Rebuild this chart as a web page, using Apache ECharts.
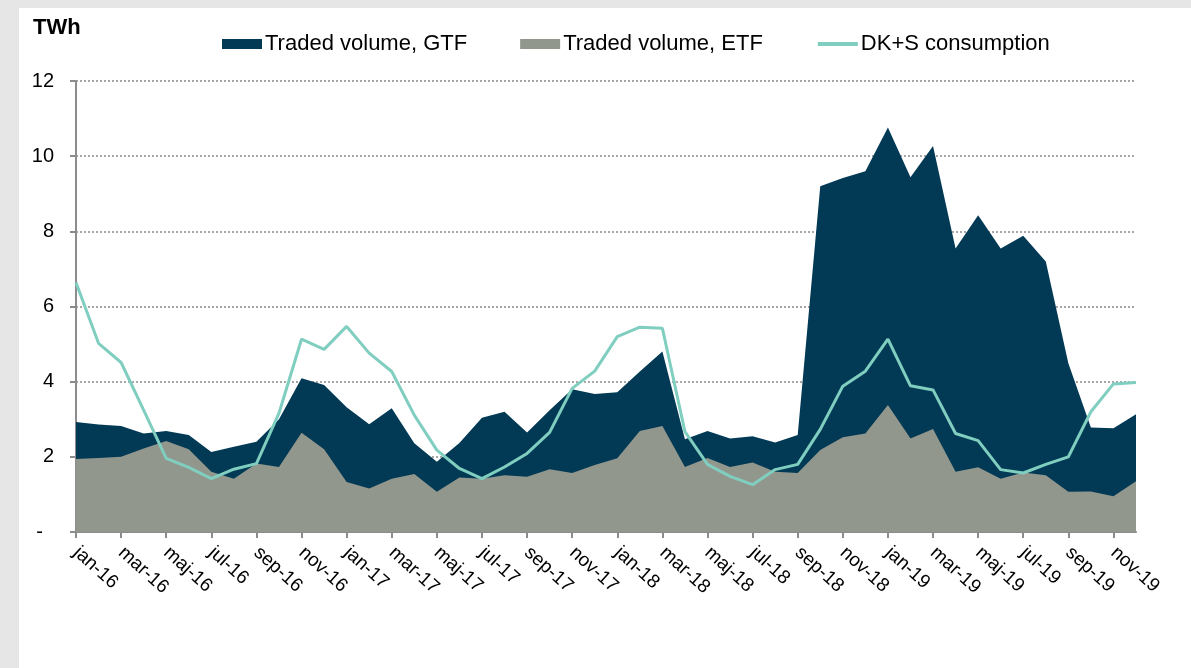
<!DOCTYPE html>
<html>
<head>
<meta charset="utf-8">
<script src="https://cdn.jsdelivr.net/npm/echarts@6/dist/echarts.min.js"></script>
<style>
  html, body { margin: 0; padding: 0; width: 1191px; height: 668px; background: #e6e6e6; overflow: hidden; }
  #chart { position: absolute; left: 19px; top: 8px; width: 1172px; height: 660px; background: #fff; }
</style>
</head>
<body>
<div id="chart"></div>
<script>
var months = ['jan', 'feb', 'mar', 'apr', 'maj', 'jun', 'jul', 'aug', 'sep', 'okt', 'nov', 'dec'];
var years = ['16', '17', '18', '19'];

var categories = [];
years.forEach(function (y) {
    months.forEach(function (m) { categories.push(m + '-' + y); });
});

// TWh per month
var gtfVolume = [
    2.93, 2.86, 2.82, 2.62, 2.69, 2.58, 2.13, 2.27, 2.40, 3.00, 4.09, 3.91,
    3.32, 2.87, 3.29, 2.36, 1.87, 2.37, 3.04, 3.20, 2.65, 3.24, 3.80, 3.67,
    3.72, 4.27, 4.80, 2.47, 2.69, 2.49, 2.55, 2.38, 2.58, 9.20, 9.42, 9.60,
    10.76, 9.44, 10.27, 7.54, 8.43, 7.54, 7.88, 7.20, 4.49, 2.78, 2.76, 3.13
];
var etfVolume = [
    1.94, 1.97, 2.00, 2.22, 2.42, 2.20, 1.60, 1.42, 1.82, 1.73, 2.64, 2.20,
    1.33, 1.16, 1.42, 1.54, 1.07, 1.45, 1.42, 1.51, 1.47, 1.67, 1.57, 1.78,
    1.96, 2.69, 2.82, 1.73, 1.97, 1.73, 1.85, 1.60, 1.57, 2.18, 2.52, 2.62,
    3.38, 2.49, 2.74, 1.60, 1.72, 1.42, 1.58, 1.51, 1.07, 1.08, 0.95, 1.35
];
var consumption = [
    6.64, 5.02, 4.51, 3.24, 1.96, 1.72, 1.42, 1.67, 1.82, 3.16, 5.13, 4.86,
    5.47, 4.76, 4.27, 3.11, 2.18, 1.69, 1.42, 1.73, 2.09, 2.65, 3.82, 4.28,
    5.20, 5.45, 5.42, 2.67, 1.80, 1.48, 1.26, 1.66, 1.80, 2.73, 3.88, 4.28,
    5.13, 3.89, 3.78, 2.62, 2.43, 1.66, 1.57, 1.80, 2.00, 3.20, 3.94, 3.98
];

var chart = echarts.init(document.getElementById('chart'));
var font = 'Liberation Sans, Arial, sans-serif';

var option = {
    animation: false,
    textStyle: { fontFamily: font },
    title: {
        text: 'TWh',
        left: 9,
        top: 4,
        textStyle: { fontFamily: font, fontSize: 22, fontWeight: 'bold', color: '#000' }
    },
    legend: {
        left: 198,
        top: 20,
        itemWidth: 40,
        itemHeight: 10,
        itemGap: 53,
        textStyle: { fontFamily: font, fontSize: 22, color: '#000', padding: [0, 0, 0, -2] },
        data: [
            { name: 'Traded volume, GTF', icon: 'rect' },
            { name: 'Traded volume, ETF', icon: 'rect' },
            { name: 'DK+S consumption', itemStyle: { opacity: 0 }, lineStyle: { width: 4 } }
        ]
    },
    grid: { left: 57, right: 55, top: 73, bottom: 136 },
    xAxis: {
        type: 'category',
        boundaryGap: false,
        data: categories,
        axisLine: { lineStyle: { color: '#8c8c8c', width: 2 } },
        axisTick: { interval: 1, length: 6, lineStyle: { color: '#8c8c8c', width: 2 } },
        axisLabel: {
            interval: 1,
            rotate: -42,
            margin: 18,
            fontSize: 19,
            fontFamily: font,
            color: '#000'
        },
        splitLine: { show: false }
    },
    yAxis: {
        type: 'value',
        min: 0,
        max: 12,
        interval: 2,
        axisLine: { show: true, lineStyle: { color: '#8c8c8c', width: 2 } },
        axisTick: { show: true, length: 6, lineStyle: { color: '#8c8c8c', width: 2 } },
        axisLabel: {
            margin: 22,
            fontSize: 20,
            fontFamily: font,
            color: '#000',
            formatter: function (v) { return v === 0 ? '-\u00a0\u00a0' : v; }
        },
        splitLine: { show: true, lineStyle: { color: '#8a8a8a', type: [2, 2], width: 1.5 } }
    },
    series: [
        {
            name: 'Traded volume, GTF',
            type: 'line',
            data: gtfVolume,
            symbol: 'none',
            color: '#023a56',
            lineStyle: { width: 0, opacity: 0 },
            areaStyle: { color: '#023a56', opacity: 1 },
            z: 2
        },
        {
            name: 'Traded volume, ETF',
            type: 'line',
            data: etfVolume,
            symbol: 'none',
            color: '#92978d',
            lineStyle: { width: 0, opacity: 0 },
            areaStyle: { color: '#92978d', opacity: 1 },
            z: 3
        },
        {
            name: 'DK+S consumption',
            type: 'line',
            data: consumption,
            symbol: 'none',
            color: '#7fcebf',
            lineStyle: { width: 3, color: '#7fcebf' },
            z: 4
        }
    ]
};

chart.setOption(option);

window.addEventListener('resize', function () {
    chart.resize();
});
</script>
</body>
</html>
